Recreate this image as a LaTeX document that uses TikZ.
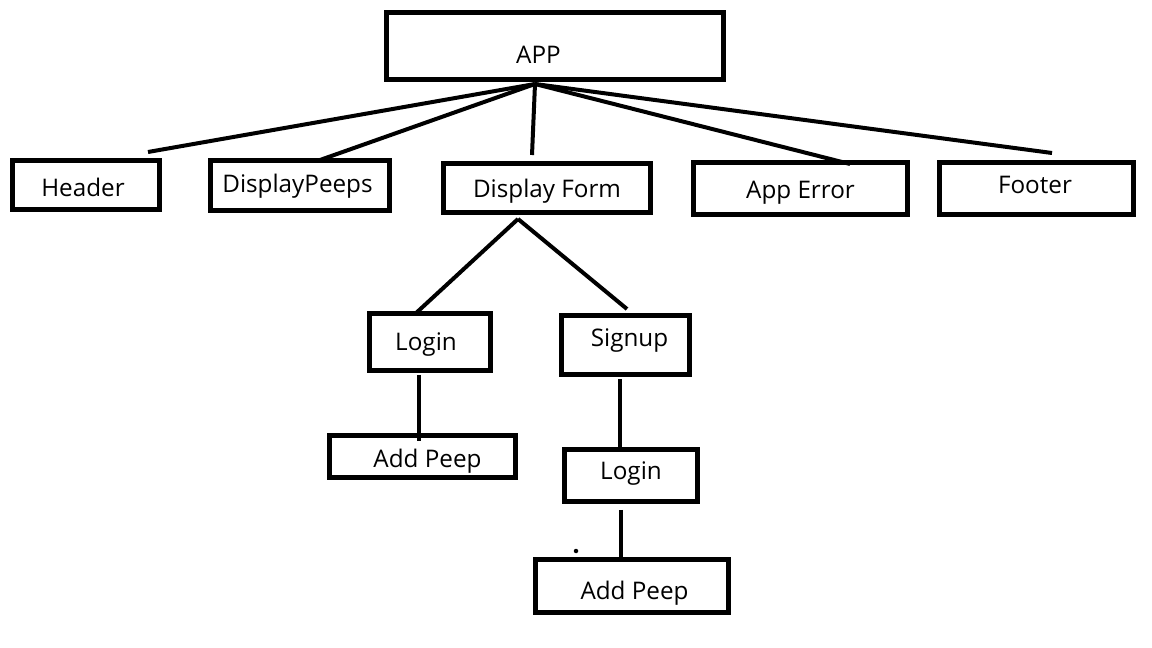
\documentclass[tikz,border=0pt]{standalone}
\usepackage{fontspec}
\setmainfont{Open Sans}
\usepackage{tikz}
\usetikzlibrary{calc,positioning}
\tikzset{
  box/.style  = {draw, line width=0.09cm, inner sep=0pt},
  txt/.style n args = {3}{label={[inner sep=0pt, text height=0pt, text depth=0pt,
                 shift={(#1,#2)}, font=\fontsize{13.8}{16}\selectfont]center:#3}},
  wire/.style = {line width=0.08cm},
  dot/.style  = {fill=black},
}
\begin{document}
\begin{tikzpicture}[x=0.02cm,y=-0.02cm]
  \fill[white] (0,0) rectangle (1152,648);
  \node[box,minimum width=6.75cm,minimum height=1.35cm,txt={-16.5}{18}{APP}] (app) at (555,46) {};
  \node[box,minimum width=2.95cm,minimum height=0.99cm,txt={-3}{12}{Header}] (header) at (86,185) {};
  \node[box,minimum width=3.59cm,minimum height=1.01cm,txt={-2.5}{7.5}{DisplayPeeps}] (peeps) at (300,185.5) {};
  \node[box,minimum width=4.15cm,minimum height=0.99cm,txt={0}{10}{Display Form}] (form) at (547,188) {};
  \node[box,minimum width=4.29cm,minimum height=1.05cm,txt={0}{10.5}{App Error}] (apperr) at (800.5,188.5) {};
  \node[box,minimum width=3.89cm,minimum height=1.05cm,txt={-1.5}{5.5}{Footer}] (footer) at (1036.5,188.5) {};
  \node[box,minimum width=2.43cm,minimum height=1.15cm,txt={-4}{8}{Login}] (login) at (430,342) {};
  \node[box,minimum width=2.57cm,minimum height=1.19cm,txt={4}{1}{Signup}] (signup) at (625.5,345) {};
  \node[box,minimum width=3.73cm,minimum height=0.85cm,txt={5}{10.5}{Add Peep}] (addpeep) at (422.5,456.5) {};
  \node[box,minimum width=2.67cm,minimum height=1.05cm,txt={0}{3.5}{Login}] (loginb) at (631,475.5) {};
  \node[box,minimum width=3.87cm,minimum height=1.07cm,txt={2.5}{13}{Add Peep}] (addpeepb) at (632,586) {};
  \coordinate (hub) at ([shift={(-20,2)}]app.south);
  \coordinate (fork) at ([shift={(-29,4)}]form.south);
  \coordinate (login-s) at ([shift={(-11,2)}]login.south);
  \coordinate (signup-s) at ([shift={(-5.5,2)}]signup.south);
  \coordinate (loginb-s) at ([shift={(-10,6)}]loginb.south);
  \draw[wire] (hub) -- ([shift={(62,-6)}]header.north);
  \draw[wire] (hub) -- ([shift={(20,2)}]peeps.north);
  \draw[wire] (hub) -- ([shift={(-15,-6)}]form.north);
  \draw[wire] (hub) -- ([shift={(49.5,4)}]apperr.north);
  \draw[wire] (hub) -- ([shift={(15.5,-7)}]footer.north);
  \draw[wire] (fork) -- ([shift={(-15,3)}]login.north);
  \draw[wire] (fork) -- ([shift={(1.5,-4)}]signup.north);
  \draw[wire] (login-s) -- ($(login-s |- addpeep.north)+(0,8)$);
  \draw[wire] (signup-s) -- ($(signup-s |- loginb.north)+(0,1)$);
  \draw[wire] (loginb-s) -- ($(loginb-s |- addpeepb.north)+(0,4)$);
  \fill[dot] (576,551) circle (0.045cm);
\end{tikzpicture}
\end{document}
